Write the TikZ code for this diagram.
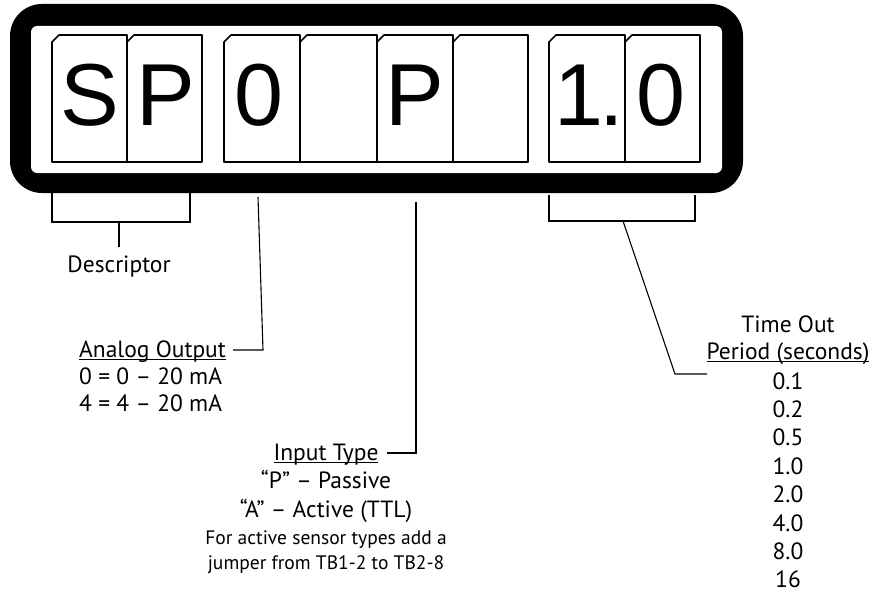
\documentclass[tikz,border=0pt]{standalone}
\usepackage{fontspec}
\setmainfont{PT Sans}
\newfontfamily\dispfont{Liberation Sans}
\usetikzlibrary{positioning}
\newcommand{\ulabel}[1]{\setbox0\hbox{#1}\rlap{\rule[-2.5pt]{\wd0}{1pt}}\box0}

\begin{document}
\begin{tikzpicture}[x=1pt, y=-1pt,
    lbl/.style={font=\fontsize{23.5}{28}\selectfont, inner sep=0pt},
    small/.style={font=\fontsize{19.5}{24}\selectfont, inner sep=0pt},
    digit/.style={font=\dispfont\fontsize{88}{88}\selectfont, inner sep=0pt, anchor=base},
    cellbox/.style={draw, line width=1.6pt, line join=round},
    lead/.style={draw, line width=1.1pt}]

    \useasboundingbox (0,0) rectangle (873,594);

    % Display frame
    \fill[black, rounded corners=32pt] (10,4) rectangle (743,193);
    \fill[white, rounded corners=6pt] (31,26) rectangle (722,173);

    % Character cells
    \foreach \l/\r in {52/127,127/202,224/300,300/377,377/453,453/528,549/625,625/700}
        \draw[cellbox] (\l,162) -- (\l,42) -- (\l+7,35) -- (\r,35) -- (\r,162) -- cycle;

    \node[digit] (dS) at (90,125) {S};
    \node[digit] (dP) at (166,125) {P};
    \node[digit] (dzero) at (259,125) {0};
    \node[digit] (dtype) at (415,125) {P};
    \node[digit] (done) at (589,125) {1\kern-4pt.};
    \node[digit] (dten) at (661,125) {0};

    % Descriptor
    \coordinate (descl) at (52,193);
    \coordinate (desclb) at (52,222);
    \coordinate (descrb) at (190,222);
    \coordinate (descr) at (190,193);
    \coordinate (descm) at (119,222);
    \node[lbl, anchor=base, inner ysep=8pt] (desc) at (119,272) {Descriptor};
    \draw[lead] (descl) -- (desclb) -- (descrb) -- (descr);
    \draw[lead] (descm) -- (desc.north);

    % Analog output
    \node[lbl, anchor=base west] (aohead) at (79,357) {\ulabel{Analog Output}};
    \node[lbl, anchor=base west] (aozero) at (79,384) {0 = 0 – 20 mA};
    \node[lbl, anchor=base west] (aofour) at (79,411) {4 = 4 – 20 mA};
    \coordinate (aotop) at (258,197);
    \coordinate (aoknee) at (263,350);
    \coordinate (aoend) at (233,350);
    \draw[lead] (aotop) -- (aoknee) -- (aoend);

    % Input type
    \node[lbl, anchor=base] (ithead) at (326,460) {\ulabel{Input Type}};
    \node[lbl, anchor=base] (itpas) at (326,488) {“P” – Passive};
    \node[lbl, anchor=base] (itact) at (326,517) {“A” – Active (TTL)};
    \node[small, anchor=base] (itnote) at (326,544) {For active sensor types add a};
    \node[small, anchor=base] (itjump) at (326,569) {jumper from TB1-2 to TB2-8};
    \coordinate (ittop) at (416,202);
    \coordinate (itknee) at (416,453);
    \coordinate (itend) at (387,453);
    \draw[lead] (ittop) -- (itknee) -- (itend);

    % Time out period
    \node[lbl, anchor=base] (tohead) at (788,332) {Time Out};
    \node[lbl, anchor=base] (period) at (788,359) {\ulabel{Period (seconds)}};
    \foreach \v [count=\i] in {0.1,0.2,0.5,1.0,2.0,4.0,8.0,16}
        \node[lbl, anchor=base] (tov\i) at (788,{389+28.4*(\i-1)}) {\v};
    \coordinate (tol) at (549,195);
    \coordinate (tolb) at (549,221);
    \coordinate (torb) at (695,221);
    \coordinate (tor) at (695,195);
    \coordinate (tom) at (623,221);
    \coordinate (toknee) at (675,374);
    \coordinate (toend) at (707,374);
    \draw[lead] (tol) -- (tolb) -- (torb) -- (tor);
    \draw[lead] (tom) -- (toknee) -- (toend);
\end{tikzpicture}
\end{document}
